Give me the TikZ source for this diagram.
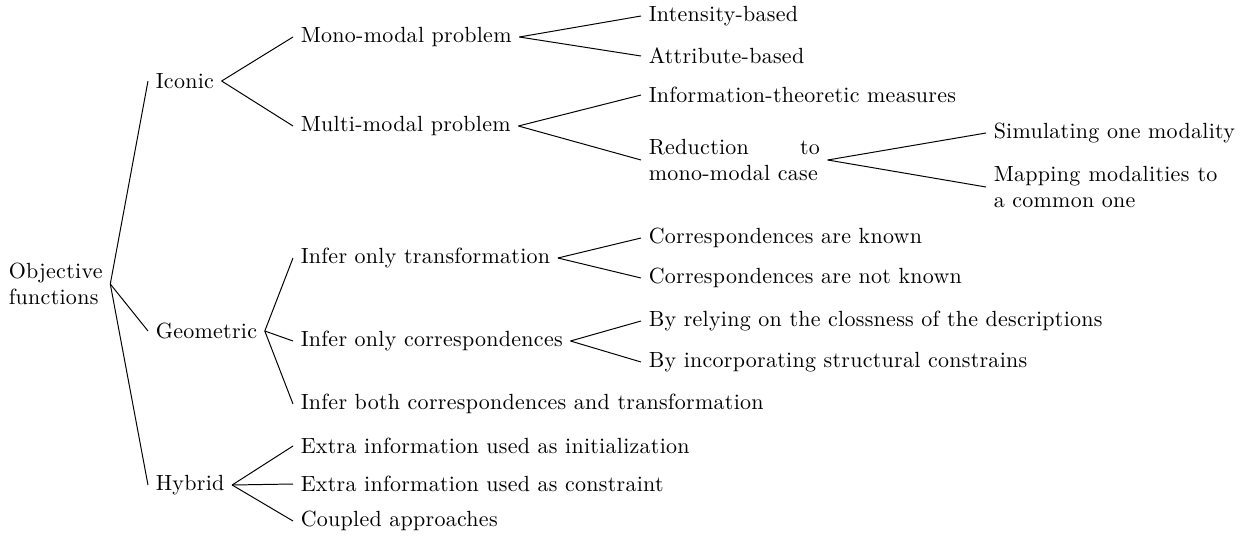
\documentclass[tikz,border=0pt]{standalone}
\usepackage{fontspec}
\setmainfont{Latin Modern Roman}[LetterSpace=1.3]
\usepackage{tikz}
\usetikzlibrary{positioning}

\begin{document}
\begin{tikzpicture}[
    x=0.016cm, y=-0.016cm,
    item/.style={anchor=west, font=\normalsize, inner sep=3.33pt},
    boxtext/.style={item, text width=#1, align=justify},
    branch/.style={draw=black, line width=0.45pt}
]
\useasboundingbox (0,0) rectangle (1253,536);

% Root
\node[item, align=left] (obj) at (1,284) {Objective\\functions};

% Level 1
\node[item] (iconic) at (148,81) {Iconic};
\node[item] (geom) at (148,331) {Geometric};
\node[item] (hybrid) at (148,485) {Hybrid};

% Level 2: Iconic
\node[item] (mono) at (293,37) {Mono-modal problem};
\node[item] (multi) at (293,126) {Multi-modal problem};

% Level 2: Geometric
\node[item] (trans) at (293,258) {Infer only transformation};
\node[item] (corr) at (293,341) {Infer only correspondences};
\node[item] (both) at (293,404) {Infer both correspondences and transformation};

% Level 2: Hybrid
\node[item] (init) at (293,446) {Extra information used as initialization};
\node[item] (constr) at (293,484) {Extra information used as constraint};
\node[item] (coupled) at (293,521) {Coupled approaches};

% Level 3
\node[item] (intens) at (641,16) {Intensity-based};
\node[item] (attr) at (641,56) {Attribute-based};
\node[item] (info) at (641,95) {Information-theoretic measures};
\node[boxtext=2.74cm] (reduce) at (641,160) {Reduction to mono-modal case};
\node[item] (known) at (641,238) {Correspondences are known};
\node[item] (unknown) at (641,278) {Correspondences are not known};
\node[item] (close) at (641,321) {By relying on the clossness of the descriptions};
\node[item] (struct) at (641,362) {By incorporating structural constrains};

% Level 4
\node[item] (simul) at (986,133) {Simulating one modality};
\node[boxtext=3.58cm] (mapping) at (986,187) {Mapping modalities to a common one};

% Connectors
\draw[branch] (obj.east) -- (iconic.west);
\draw[branch] (obj.east) -- (geom.west);
\draw[branch] (obj.east) -- (hybrid.west);

\draw[branch] (iconic.east) -- (mono.west);
\draw[branch] (iconic.east) -- (multi.west);
\draw[branch] (mono.east) -- (intens.west);
\draw[branch] (mono.east) -- (attr.west);
\draw[branch] (multi.east) -- (info.west);
\draw[branch] (multi.east) -- (reduce.west);
\draw[branch] (reduce.east) -- (simul.west);
\draw[branch] (reduce.east) -- (mapping.west);

\draw[branch] (geom.east) -- (trans.west);
\draw[branch] (geom.east) -- (corr.west);
\draw[branch] (geom.east) -- (both.west);
\draw[branch] (trans.east) -- (known.west);
\draw[branch] (trans.east) -- (unknown.west);
\draw[branch] (corr.east) -- (close.west);
\draw[branch] (corr.east) -- (struct.west);

\draw[branch] (hybrid.east) -- (init.west);
\draw[branch] (hybrid.east) -- (constr.west);
\draw[branch] (hybrid.east) -- (coupled.west);

\end{tikzpicture}
\end{document}
